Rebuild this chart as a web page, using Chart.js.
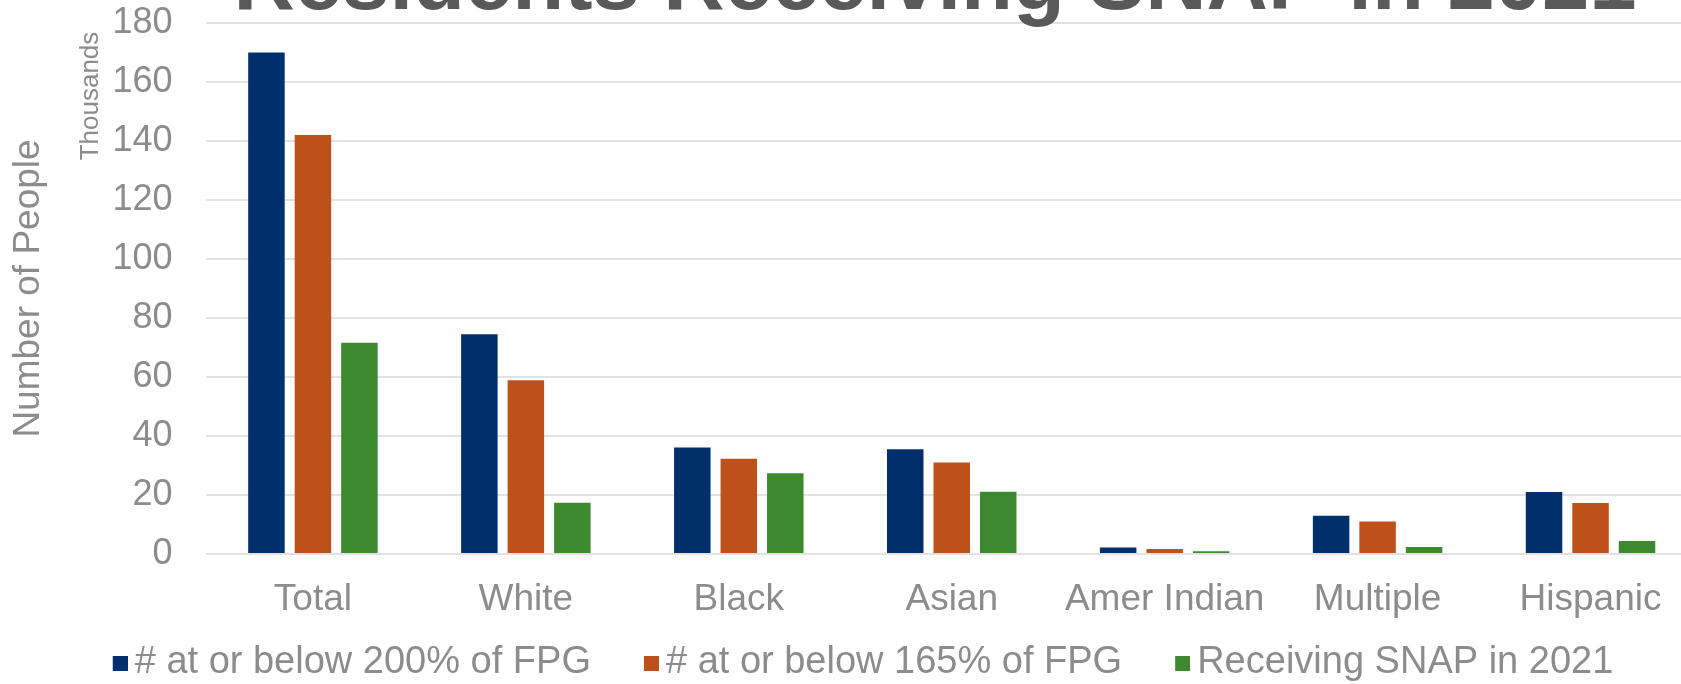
<!DOCTYPE html>
<html>
<head>
<meta charset="utf-8">
<script src="https://cdn.jsdelivr.net/npm/chart.js@4.4.0/dist/chart.umd.min.js"></script>
<style>
  html, body { margin: 0; padding: 0; background: #fff; overflow: hidden; }
  /* the plot runs a little past the right edge, as in the original */
  #wrap { width: 1681px; height: 684px; position: relative; overflow: hidden; }
</style>
</head>
<body>
<div id="wrap"><canvas id="snapChart" width="1698" height="684"></canvas></div>
<script>
const categories = ["Total", "White", "Black", "Asian", "Amer Indian", "Multiple", "Hispanic"];
// values in thousands of people
const below200 = [170, 74.5, 36.1, 35.5, 2.2, 13.0, 21.0];
const below165 = [142, 58.9, 32.3, 31.0, 1.7, 11.0, 17.3];
const receivingSnap = [71.6, 17.4, 27.4, 21.1, 0.9, 2.4, 4.4];
const seriesNames = ["# at or below 200% of FPG", "# at or below 165% of FPG", "Receiving SNAP in 2021"];
const seriesColors = ["#002f6c", "#be501a", "#3d8a2e"];
const yTicks = [0, 20, 40, 60, 80, 100, 120, 140, 160, 180];

const gray = "#8c8c8c";
const fontFamily = "'Liberation Sans', Arial, sans-serif";

// legend square drawn at the right end of a wider canvas so it sits close to its text
const swatchSlot = 32;
function swatch(color) {
  const c = document.createElement("canvas");
  c.width = swatchSlot + 24;
  c.height = 15;
  const g = c.getContext("2d");
  g.fillStyle = color;
  g.fillRect(swatchSlot + 9, 0, 15, 15);
  return c;
}

// big title is cut off at the top of the picture, plus the small "Thousands" unit label
const extraText = {
  id: "extraText",
  afterDraw(chart) {
    const ctx = chart.ctx;
    ctx.save();
    ctx.fillStyle = "#595959";
    ctx.font = "bold 85px " + fontFamily;
    ctx.textAlign = "center";
    ctx.textBaseline = "alphabetic";
    ctx.fillText("Residents Receiving SNAP in 2021", 935, 9);

    ctx.translate(98, 96);
    ctx.rotate(-Math.PI / 2);
    ctx.fillStyle = gray;
    ctx.font = "26px " + fontFamily;
    ctx.fillText("Thousands", 0, 0);
    ctx.restore();
  }
};

const ctx = document.getElementById("snapChart").getContext("2d");
new Chart(ctx, {
  type: "bar",
  data: {
    labels: categories,
    datasets: [
      { label: seriesNames[0], data: below200, backgroundColor: seriesColors[0] },
      { label: seriesNames[1], data: below165, backgroundColor: seriesColors[1] },
      { label: seriesNames[2], data: receivingSnap, backgroundColor: seriesColors[2] }
    ]
  },
  options: {
    responsive: false,
    devicePixelRatio: 1,
    animation: false,
    categoryPercentage: 0.655,
    barPercentage: 0.785,
    layout: { padding: { top: 23, right: 1, bottom: -8, left: 0 } },
    plugins: {
      legend: {
        position: "bottom",
        labels: {
          color: gray,
          font: { family: fontFamily, size: 38 },
          usePointStyle: true,
          pointStyleWidth: swatchSlot,
          boxHeight: 15,
          padding: 24,
          generateLabels: chart => chart.data.datasets.map((ds, i) => ({
            text: ds.label,
            fontColor: gray,
            fillStyle: seriesColors[i],
            strokeStyle: seriesColors[i],
            lineWidth: 0,
            pointStyle: swatch(seriesColors[i]),
            hidden: false,
            datasetIndex: i
          }))
        }
      },
      tooltip: { enabled: false }
    },
    scales: {
      x: {
        grid: { display: false, drawTicks: false },
        border: { display: false },
        ticks: {
          color: gray,
          font: { family: fontFamily, size: 37, lineHeight: 1.1 },
          padding: 25,
          maxRotation: 0
        },
        afterFit: axis => { axis.height = 66; }
      },
      y: {
        min: 0,
        max: 180,
        afterBuildTicks: axis => {
          axis.ticks = yTicks.map(v => ({ value: v }));
        },
        grid: { color: "#e2e2e2", lineWidth: 2, tickLength: 34, tickColor: "rgba(0,0,0,0)" },
        border: { display: false },
        ticks: {
          color: gray,
          font: { family: fontFamily, size: 36 },
          padding: 0
        },
        title: {
          display: true,
          text: "Number of People",
          color: gray,
          font: { family: fontFamily, size: 37 },
          padding: { top: 7, bottom: 61 }
        }
      }
    }
  },
  plugins: [extraText]
});
</script>
</body>
</html>
